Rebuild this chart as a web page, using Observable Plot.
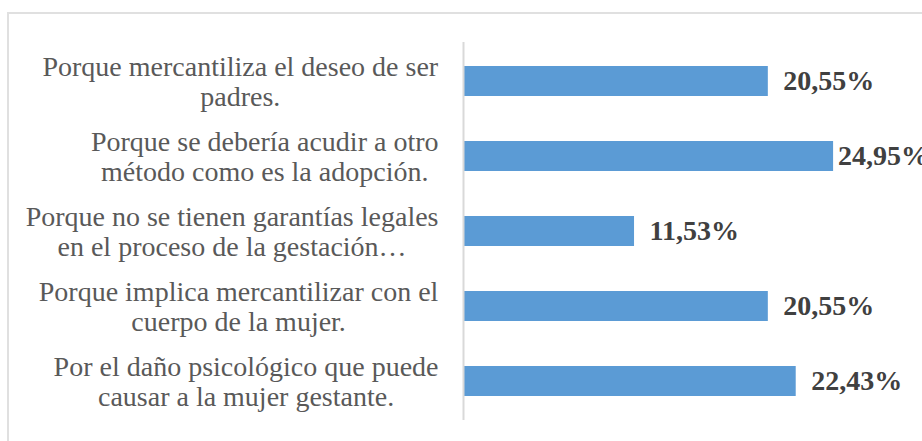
<!DOCTYPE html>
<html>
<head>
<meta charset="utf-8">
<script src="https://cdn.jsdelivr.net/npm/d3@7"></script>
<script src="https://cdn.jsdelivr.net/npm/@observablehq/plot@0.6"></script>
<style>
  html, body { margin: 0; padding: 0; background: #fff; overflow: hidden; }
  #wrap { position: relative; width: 922px; height: 441px; overflow: hidden; }
  #border { position: absolute; left: 7px; top: 12px; width: 960px; height: 480px; border: 2px solid #e0e0e0; box-sizing: border-box; }
  #chart { position: absolute; left: 0; top: 0; }
</style>
</head>
<body>
<div id="wrap"><div id="border"></div><div id="chart"></div></div>
<script>
const categories = [
  "Porque mercantiliza el deseo de ser\npadres.",
  "Porque se debería acudir a otro\nmétodo como es la adopción.",
  "Porque no se tienen garantías legales\nen el proceso de la gestación…",
  "Porque implica mercantilizar con el\ncuerpo de la mujer.",
  "Por el daño psicológico que puede\ncausar a la mujer gestante."
];
const values = [20.55, 24.95, 11.53, 20.55, 22.43];

const data = categories.map((label, i) => ({label, value: values[i]}));
const fmt = v => v.toFixed(2).replace(".", ",") + "%";
const serif = "'Liberation Serif', 'Times New Roman', serif";

const chart = Plot.plot({
  width: 922,
  height: 441,
  marginLeft: 463,
  marginRight: 14,
  marginTop: 42,
  marginBottom: 21,
  style: {fontFamily: serif, background: "transparent", overflow: "visible"},
  x: {domain: [0, 30], axis: null},
  y: {domain: categories, axis: null, paddingInner: 0.6, paddingOuter: 0.3},
  marks: [
    Plot.barX(data, {x: "value", y: "label", fill: "#5B9BD5"}),
    Plot.ruleX([0], {stroke: "#D9D9D9", strokeWidth: 2}),
    Plot.text(data, {x: "value", y: "label", text: d => fmt(d.value), textAnchor: "start", dx: 15, fontWeight: "bold", fontSize: 28, fill: "#404040", fontFamily: serif}),
    Plot.text(data, {y: "label", text: "label", frameAnchor: "left", dx: -25, textAnchor: "end", lineAnchor: "middle", lineHeight: 1.05, fontSize: 28, fill: "#595959", fontFamily: serif})
  ]
});
document.getElementById("chart").append(chart);

const textGroups = chart.querySelectorAll('g[aria-label="text"]');
const valueGroup = textGroups[0];
const labelGroup = textGroups[textGroups.length - 1];
const parseT = s => {
  const m = /translate\(([-\d.]+)(?:[,\s]+([-\d.]+))?\)/.exec(s || "");
  return m ? [+m[1], +(m[2] || 0)] : null;
};

// center each multi-line label block, keeping its widest line right-aligned
labelGroup.querySelectorAll("text").forEach(t => {
  const p = parseT(t.getAttribute("transform"));
  if (!p) return;
  const [right, ty] = p;
  t.setAttribute("text-anchor", "middle");
  const w = t.getBBox().width;
  t.setAttribute("transform", `translate(${right - w / 2},${ty})`);
});

// like the spreadsheet: pull a value label left if it would run past the edge (keeping a small gap to the bar)
const gOff = (parseT(valueGroup.getAttribute("transform")) || [0, 0])[0];
valueGroup.querySelectorAll("text").forEach(t => {
  const p = parseT(t.getAttribute("transform"));
  if (!p) return;
  const [barEnd, ty] = p;
  const w = t.getBBox().width;
  const edge = 922;
  if (barEnd + gOff + w > edge) {
    const start = Math.max(edge - w, barEnd + 5);
    t.setAttribute("transform", `translate(${start - gOff},${ty})`);
  }
});
</script>
</body>
</html>
